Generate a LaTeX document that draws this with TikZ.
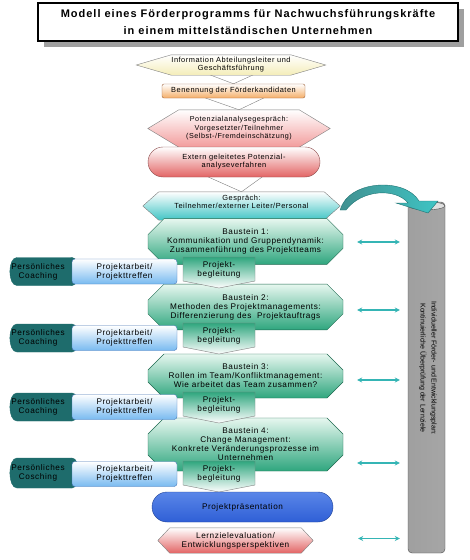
\documentclass[tikz,border=0pt]{standalone}
\usepackage{fontspec}
\setmainfont{Liberation Sans}
\newfontfamily\spfont[LetterSpace=7]{Liberation Sans}
\newfontfamily\tfont[LetterSpace=9]{Liberation Sans}
\usetikzlibrary{shapes.misc,shapes.geometric,calc,arrows.meta}
\pgfdeclarelayer{bottomlayer}
\pgfdeclarelayer{chevlayer}
\pgfdeclarelayer{hexlayer}
\pgfsetlayers{bottomlayer,chevlayer,hexlayer,main}
\definecolor{infoY}{HTML}{F4EDB8}
\definecolor{orgB}{HTML}{F4AE68}
\definecolor{orgD}{HTML}{A0643C}
\definecolor{pinkB}{HTML}{F29C9C}
\definecolor{redB}{HTML}{E26464}
\definecolor{redD}{HTML}{8C4A4A}
\definecolor{tealB}{HTML}{3FC4C4}
\definecolor{tealD}{HTML}{1F7373}
\definecolor{tealA}{HTML}{35B5B5}
\definecolor{grnB}{HTML}{2FA67E}
\definecolor{grnL}{HTML}{E6F7EF}
\definecolor{grnD}{HTML}{1E6A50}
\definecolor{bluB}{HTML}{78BAF0}
\definecolor{bluD}{HTML}{4A78B8}
\definecolor{presB}{HTML}{2F5FD6}
\definecolor{presT}{HTML}{5A86E8}
\definecolor{coachD}{HTML}{1E6C6C}
\definecolor{bordG}{HTML}{808080}
\newcommand\fsm{\spfont\fontsize{7.4}{8}\selectfont}
\newcommand\fmd{\spfont\fontsize{8.2}{9}\selectfont}
\newcommand\hexshape[3]{\begin{pgfonlayer}{hexlayer}\path[#3] (#1.north west) -- (#1.north east) -- ($(#1.east)+(#2,0)$) -- (#1.south east) -- (#1.south west) -- ($(#1.west)+(-#2,0)$) -- cycle;\end{pgfonlayer}}
\newcommand\chev[5]{\begin{pgfonlayer}{chevlayer}\path[#5] ($(#1.south)+(-#3,-3)$) -- ($(#1.south)+(#3,-3)$) -- ($(#2.north)+(0,#4)$) -- cycle;\end{pgfonlayer}}
\newcommand\begl[2]{\path[beglshape] ($(#1)+(-36,0)$) -- ($(#1)+(36,0)$) -- ($(#1)+(36,24)$) -- ($(#1)+(0,31)$) -- ($(#1)+(-36,24)$) -- cycle;
\node[rowtext] (#2) at ($(#1)+(0,13)$) {Projekt-\\begleitung};}
% coaching cylinder: name, cx, cy, half height, label
\newcommand\coachshape[5]{\path[coachfill] (#2+29,#3-#4) -- (#2-26,#3-#4) .. controls (#2-35.5,#3-#4) and (#2-35.5,#3+#4) .. (#2-26,#3+#4) -- (#2+29,#3+#4) .. controls (#2+38,#3+#4) and (#2+38,#3-#4) .. (#2+29,#3-#4) -- cycle;
\draw[coachD] (#2+29,#3-#4) .. controls (#2+21,#3-#4) and (#2+21,#3+#4) .. (#2+29,#3+#4);
\node[rowtext] (#1) at (#2-5,#3) {Persönliches\\#5};}
\begin{document}
\begin{tikzpicture}[x=1pt,y=-1pt,
  txt/.style={align=center, inner sep=0pt, font=\fsm},
  rowtext/.style={align=center, inner sep=0pt, font=\fmd},
  hexinfo/.style={draw=bordG, top color=white, bottom color=infoY},
  hexpot/.style={draw=bordG, top color=white, bottom color=pinkB},
  hexgesp/.style={draw=bordG, top color=white, bottom color=tealB},
  hexlern/.style={draw=bordG, top color=white, bottom color=redB},
  chevw/.style={draw=bordG, fill=white},
  chevt/.style={draw=bordG, fill=tealB},
  benbox/.style={txt, rectangle, rounded corners=2pt, draw=orgD, top color=white, bottom color=orgB},
  extbox/.style={txt, rounded rectangle, draw=redD, top color=white, bottom color=redB},
  baustein/.style={align=center, inner sep=0pt, font=\fmd, chamfered rectangle, chamfered rectangle xsep=6pt, chamfered rectangle ysep=10pt, minimum width=195, minimum height=33, draw=grnD, top color=grnL, bottom color=grnB},
  coachfill/.style={draw=coachD, top color=coachD, middle color=white, bottom color=coachD},
  proj/.style={rowtext, rectangle, rounded corners=3pt, minimum width=105, minimum height=25, draw=bluD, top color=white, bottom color=bluB},
  beglshape/.style={draw=bordG, top color=grnB, bottom color=white},
  presbox/.style={txt, font=\fmd, rounded rectangle, minimum width=181, minimum height=30, draw=presB!70!black, top color=presT, middle color=white!75!presT, bottom color=presB},
  darr/.style={tealA, line width=1.3pt, {Stealth[length=5pt,width=5pt]}-{Stealth[length=5pt,width=5pt]}, shorten <=14pt, shorten >=8pt},
]
\begin{pgfonlayer}{bottomlayer}
\fill[white] (0,0) rectangle (470,560);
\end{pgfonlayer}
\useasboundingbox (0,0) rectangle (470,560);
% title
\fill[gray!75] (44,9) rectangle (464,47);
\node[draw=black, line width=1.6pt, fill=white, minimum width=420, minimum height=38, inner sep=0pt, align=center, font=\tfont\bfseries\fontsize{11}{17}\selectfont] (title) at (248,22) {Modell eines Förderprogramms für Nachwuchsführungskräfte\\in einem mittelständischen Unternehmen};
% top flow
\node[txt, minimum width=115, minimum height=20] (info) at (231,65) {Information Abteilungsleiter und\\Geschäftsführung};
\hexshape{info}{35}{hexinfo}
\node[benbox, minimum width=143, minimum height=14] (ben) at (233.5,91) {Benennung der Förderkandidaten};
\chev{info}{ben}{28}{0}{chevw}
\node[txt, minimum width=120, minimum height=37, font=\spfont\fontsize{7.2}{8.5}\selectfont] (pot) at (239,128.5) {Potenzialanalysegespräch:\\Vorgesetzter/Teilnehmer\\(Selbst-/Fremdeinschätzung)};
\hexshape{pot}{31}{hexpot}
\chev{ben}{pot}{36}{0}{chevw}
\node[extbox, minimum width=172, minimum height=30] (ext) at (234,162) {Extern geleitetes Potenzial-\\analyseverfahren};
\node[txt, minimum width=165, minimum height=28] (gespr) at (241.5,206) {};
\hexshape{gespr}{16}{hexgesp}
\node[txt] (gesprtext) at (241.5,202) {Gespräch:\\Teilnehmer/externer Leiter/Personal};
\chev{ext}{gespr}{32}{0}{chevw}
% Bausteine
\node[baustein] (b1) at (245.5,241.5) {Baustein 1:\\Kommunikation und Gruppendynamik:\\Zusammenführung des Projektteams};
\chev{gespr}{b1}{50}{7}{chevt}
\node[baustein, minimum height=32] (b2) at (245.5,307) {Baustein 2:\\Methoden des Projektmanagements:\\Differenzierung des\ \ Projektauftrags};
\node[baustein, minimum height=32] (b3) at (245.5,376) {Baustein 3:\\Rollen im Team/Konfliktmanagement:\\Wie arbeitet das Team zusammen?};
\node[baustein, minimum height=35] (b4) at (245.5,444.5) {Baustein 4:\\Change Management:\\Konkrete Veränderungsprozesse im\\Unternehmen};
% rows
\coachshape{c1}{43}{271.5}{14}{Coaching}
\node[proj] (p1) at (124.5,271.5) {Projektarbeit/\\Projekttreffen};
\coordinate (g1) at (219,257);
\begl{g1}{g1t}
\coachshape{c2}{43}{338}{14}{Coaching}
\node[proj] (p2) at (124.5,338) {Projektarbeit/\\Projekttreffen};
\coordinate (g2) at (219,323);
\begl{g2}{g2t}
\coachshape{c3}{43}{407}{14}{Coaching}
\node[proj] (p3) at (124.5,407) {Projektarbeit/\\Projekttreffen};
\coordinate (g3) at (219,392);
\begl{g3}{g3t}
\coachshape{c4}{43}{473}{15}{Cosching}
\node[proj] (p4) at (124.5,474) {Projektarbeit/\\Projekttreffen};
\coordinate (g4) at (219,461);
\begl{g4}{g4t}
% end
\node[presbox] (pres) at (242.5,507) {Projektpräsentation};
\node[txt, font=\fmd, minimum width=131, minimum height=25] (lern) at (235.5,540.5) {Lernzielevaluation/\\Entwicklungsperspektiven};
\hexshape{lern}{12}{hexlern}
% cylinder
\node[rectangle, rounded corners=4pt, minimum width=37, minimum height=351, inner sep=0pt, draw=gray!60!black, left color=gray!75, middle color=white, right color=gray!70] (cyl) at (426.5,377.5) {};
\draw[gray!60!black, fill=gray!25] ($(cyl.north)+(0,4)$) ellipse (18.5 and 4);
\node[align=center, inner sep=0pt, rotate=-90, font=\rmfamily\fontsize{7}{11}\selectfont] (cyltext) at (428,368) {Individueller Förder- und Entwicklungsplan:\\Kontinuierliche Überprüfung der Lernziele};
% curved arrow
\path[draw=tealD, left color=tealD!85, right color=tealB] (gespr.east) ++(16,4) .. controls (348,180) and (405,177) .. (419,201) -- (438,201) -- (428,213) -- (396,203) -- (408,203) .. controls (396,188) and (362,189) .. (346,210) -- cycle;
% double arrows
\draw[darr] ([yshift=-0.5pt]b1.east) -- ([yshift=-0.5pt]b1.east -| cyl.west);
\draw[darr] ([yshift=-3pt]b2.east) -- ([yshift=-3pt]b2.east -| cyl.west);
\draw[darr] ([yshift=-4pt]b3.east) -- ([yshift=-4pt]b3.east -| cyl.west);
\draw[darr] ([yshift=-18.5pt]b4.east) -- ([yshift=-18.5pt]b4.east -| cyl.west);
\draw[darr, shorten <=57pt] ([yshift=2pt]lern.east) -- ([yshift=2pt]lern.east -| cyl.west);
\end{tikzpicture}
\end{document}
